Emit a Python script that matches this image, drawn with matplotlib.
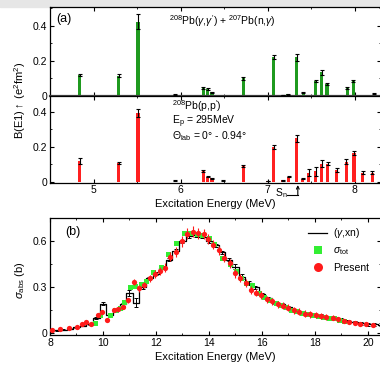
import numpy as np
import matplotlib
matplotlib.use('Agg')
import matplotlib.pyplot as plt
from matplotlib.ticker import MultipleLocator
from matplotlib.patches import Rectangle
from matplotlib.lines import Line2D

plt.rcParams['font.family'] = ['Liberation Sans', 'DejaVu Sans']
plt.rcParams['mathtext.fontset'] = 'custom'
plt.rcParams['mathtext.rm'] = 'Liberation Sans'
plt.rcParams['mathtext.it'] = 'Liberation Sans:italic'

# panel (a) top: 208Pb(g,g') + 207Pb(n,g)
gg_e = [4.84, 5.29, 5.51, 5.94, 6.26, 6.31, 6.36, 6.72, 7.07, 7.18, 7.23, 7.33,
        7.41, 7.55, 7.62, 7.68, 7.91, 7.98, 8.22]
gg_b = [0.120, 0.115, 0.425, 0.008, 0.044, 0.042, 0.022, 0.100, 0.222, 0.005,
        0.010, 0.220, 0.020, 0.088, 0.135, 0.068, 0.048, 0.084, 0.012]
gg_err = [0.006, 0.008, 0.045, 0.003, 0.005, 0.005, 0.003, 0.008, 0.012, 0.002,
          0.002, 0.020, 0.004, 0.006, 0.014, 0.006, 0.006, 0.006, 0.003]

# panel (a) bottom: 208Pb(p,p')
pp_e = [4.84, 5.29, 5.51, 5.94, 6.26, 6.31, 6.36, 6.49, 6.72, 7.00, 7.07, 7.17,
        7.24, 7.33, 7.40, 7.47, 7.55, 7.62, 7.69, 7.79, 7.90, 7.99, 8.09, 8.20]
pp_b = [0.118, 0.110, 0.395, 0.008, 0.060, 0.030, 0.020, 0.010, 0.093, 0.004,
        0.200, 0.010, 0.030, 0.250, 0.018, 0.053, 0.060, 0.105, 0.105, 0.068,
        0.116, 0.164, 0.052, 0.052]
pp_err = [0.017, 0.006, 0.022, 0.003, 0.006, 0.004, 0.003, 0.002, 0.005, 0.001,
          0.012, 0.002, 0.004, 0.020, 0.003, 0.020, 0.025, 0.018, 0.006, 0.012,
          0.015, 0.012, 0.008, 0.008]

# panel (b): present data
pr_e = [8.08, 8.39, 8.71, 9.02, 9.19, 9.37, 9.56, 9.80, 9.98, 10.17, 10.40, 10.58,
        10.77, 10.96, 11.18, 11.37, 11.56, 11.76, 11.95, 12.14, 12.34, 12.55, 12.76,
        12.97, 13.18, 13.39, 13.58, 13.80, 13.98, 14.17, 14.38, 14.56, 14.78, 15.00,
        15.18, 15.39, 15.60, 15.79, 15.98, 16.20, 16.40, 16.61, 16.80, 17.00, 17.20,
        17.40, 17.62, 17.81, 18.04, 18.23, 18.44, 18.67, 18.88, 19.10, 19.30, 19.52,
        19.70, 19.93, 20.20]
pr_s = [0.022, 0.026, 0.037, 0.045, 0.063, 0.072, 0.062, 0.118, 0.140, 0.088, 0.150,
        0.160, 0.172, 0.215, 0.335, 0.295, 0.318, 0.360, 0.385, 0.410, 0.430, 0.500,
        0.530, 0.600, 0.650, 0.662, 0.655, 0.650, 0.615, 0.580, 0.543, 0.495, 0.457,
        0.392, 0.363, 0.326, 0.282, 0.267, 0.250, 0.224, 0.210, 0.190, 0.180, 0.167,
        0.152, 0.141, 0.130, 0.124, 0.119, 0.115, 0.108, 0.102, 0.093, 0.080, 0.072,
        0.066, 0.062, 0.060, 0.058]
pr_err = [0.003, 0.003, 0.004, 0.004, 0.005, 0.006, 0.006, 0.008, 0.010, 0.010, 0.012,
          0.012, 0.014, 0.016, 0.020, 0.022, 0.020, 0.024, 0.026, 0.026, 0.028, 0.030,
          0.032, 0.034, 0.036, 0.036, 0.036, 0.034, 0.034, 0.032, 0.030, 0.030, 0.028,
          0.028, 0.026, 0.026, 0.025, 0.024, 0.024, 0.023, 0.022, 0.022, 0.022, 0.022,
          0.022, 0.022, 0.022, 0.020, 0.020, 0.018, 0.018, 0.016, 0.016, 0.014, 0.012,
          0.012, 0.010, 0.010, 0.010]

# panel (b): sigma_tot
tot_e = [9.69, 9.90, 10.28, 10.47, 10.64, 10.81, 11.04, 11.22, 11.42, 11.62, 11.90,
         12.19, 12.44, 12.76, 13.07, 13.30, 13.55, 13.75, 14.00, 14.20, 14.49, 14.80,
         15.02, 15.20, 15.42, 15.64, 15.90, 16.10, 16.30, 16.52, 16.72, 16.92, 17.12,
         17.32, 17.52, 17.72, 17.92, 18.12, 18.32, 18.52, 18.72, 18.92, 19.12]
tot_s = [0.068, 0.122, 0.120, 0.152, 0.165, 0.205, 0.300, 0.310, 0.322, 0.345, 0.400,
         0.435, 0.515, 0.587, 0.652, 0.652, 0.650, 0.640, 0.620, 0.585, 0.490, 0.450,
         0.405, 0.362, 0.330, 0.318, 0.262, 0.240, 0.220, 0.200, 0.185, 0.170, 0.156,
         0.145, 0.132, 0.126, 0.120, 0.115, 0.110, 0.104, 0.098, 0.090, 0.082]

# panel (b): (g,xn) histogram
gx_e = [8.0, 8.25, 8.5, 8.75, 9.0, 9.25, 9.5, 9.75, 10.0, 10.25, 10.5, 10.75, 11.0,
        11.25, 11.5, 11.75, 12.0, 12.25, 12.5, 12.75, 13.0, 13.25, 13.5, 13.75, 14.0,
        14.25, 14.5, 14.75, 15.0, 15.25, 15.5, 15.75, 16.0, 16.25, 16.5, 16.75, 17.0,
        17.25, 17.5, 17.75, 18.0, 18.25, 18.5, 18.75, 19.0, 19.25, 19.5, 19.75, 20.0,
        20.25, 20.5]
gx_s = [0.015, 0.020, 0.025, 0.030, 0.040, 0.050, 0.060, 0.100, 0.195, 0.120, 0.150,
        0.190, 0.265, 0.200, 0.300, 0.360, 0.390, 0.430, 0.480, 0.540, 0.600, 0.635,
        0.640, 0.630, 0.600, 0.575, 0.530, 0.480, 0.435, 0.370, 0.330, 0.300, 0.255,
        0.230, 0.200, 0.190, 0.170, 0.150, 0.140, 0.130, 0.120, 0.115, 0.105, 0.100,
        0.090, 0.080, 0.075, 0.065, 0.060, 0.060, 0.058]
gx_err = [0.002, 0.002, 0.002, 0.003, 0.003, 0.003, 0.004, 0.006, 0.010, 0.008, 0.008,
          0.010, 0.020, 0.030, 0.010, 0.010, 0.010, 0.010, 0.010, 0.010, 0.010, 0.010,
          0.010, 0.010, 0.010, 0.010, 0.010, 0.010, 0.015, 0.015, 0.015, 0.012, 0.010,
          0.010, 0.008, 0.008, 0.008, 0.008, 0.008, 0.008, 0.008, 0.010, 0.008, 0.008,
          0.008, 0.008, 0.008, 0.008, 0.010, 0.010, 0.008]

fig = plt.figure(figsize=(3.8, 3.68), dpi=100)
fig.patches.append(Rectangle((0, 1 - 7 / 368), 1, 7 / 368, transform=fig.transFigure,
                             color='#e6e6e6', zorder=-5))

W, H = 380, 368
L, R = 50 / W, 331 / W
ax1 = fig.add_axes([L, 1 - 96 / H, R, 89 / H])
ax2 = fig.add_axes([L, 1 - 182.5 / H, R, 86.5 / H])
ax3 = fig.add_axes([L, 1 - 335 / H, R, 117 / H])

def style(ax):
    ax.tick_params(which='both', direction='in', top=True, right=True, labelsize=7.5, pad=2)
    ax.tick_params(which='major', length=3)
    ax.tick_params(which='minor', length=1.6)
    for s in ax.spines.values():
        s.set_linewidth(0.9)

for ax in (ax1, ax2):
    ax.set_xlim(4.5, 8.3)
    ax.xaxis.set_major_locator(MultipleLocator(1))
    ax.xaxis.set_minor_locator(MultipleLocator(0.5))
    ax.yaxis.set_major_locator(MultipleLocator(0.2))
    ax.yaxis.set_minor_locator(MultipleLocator(0.1))
    ax.yaxis.set_major_formatter(lambda v, p: '0' if abs(v) < 1e-9 else f'{v:.1f}')
    style(ax)

ax1.bar(gg_e, gg_b, width=0.035, color='#1f9a1f', zorder=2)
ax1.errorbar(gg_e, gg_b, yerr=gg_err, fmt='none', ecolor='k', elinewidth=0.8,
             capsize=1.5, capthick=0.8, zorder=3)
ax1.set_ylim(0, 0.508)
ax1.tick_params(labelbottom=False)
ax1.spines['bottom'].set_linewidth(1.6)
ax1.spines['bottom'].set_color('#444444')
ax1.text(0.02, 0.93, '(a)', transform=ax1.transAxes, fontsize=9, va='top')
ax1.text(0.36, 0.93, r'$^{208}$Pb($\gamma$,$\gamma^{\prime}$) + $^{207}$Pb(n,$\gamma$)',
         transform=ax1.transAxes, fontsize=7.5, va='top')

ax2.bar(pp_e, pp_b, width=0.035, color='#ff2020', zorder=2)
ax2.errorbar(pp_e, pp_b, yerr=pp_err, fmt='none', ecolor='k', elinewidth=0.8,
             capsize=1.5, capthick=0.8, zorder=3)
ax2.set_ylim(-0.003, 0.49)
ax2.text(0.37, 0.97, r'$^{208}$Pb(p,p$^{\prime}$)', transform=ax2.transAxes,
         fontsize=7.5, va='top')
ax2.text(0.37, 0.80, r'E$_{\rm p}$ = 295MeV', transform=ax2.transAxes,
         fontsize=7.5, va='top')
ax2.text(0.37, 0.62, r'$\Theta_{\rm lab}$ = 0$\degree$ - 0.94$\degree$',
         transform=ax2.transAxes, fontsize=7.5, va='top')
ax2.set_xlabel('Excitation Energy (MeV)', fontsize=8, labelpad=3)

# S_n marker below the axis
tr = ax2.get_xaxis_transform()
ax2.text(7.08, -0.12, r'S$_{\rm n}$', transform=tr, fontsize=7.5, va='center')
ax2.plot([7.22, 7.345], [-0.14, -0.14], transform=tr, color='k', lw=0.8, clip_on=False)
ax2.annotate('', xy=(7.345, -0.03), xytext=(7.345, -0.145), xycoords=tr, textcoords=tr,
             arrowprops=dict(arrowstyle='->', lw=0.8, color='k', shrinkA=0, shrinkB=0,
                             mutation_scale=5))

fig.text(20 / W, 1 - 100 / H, r'B(E1)$\uparrow$ (e$^2$fm$^2$)', rotation=90,
         fontsize=8, va='center', ha='center')

# panel (b)
ax3.step(gx_e, gx_s, where='mid', color='k', lw=0.9, zorder=2)
ax3.errorbar(gx_e, gx_s, yerr=gx_err, fmt='none', ecolor='k', elinewidth=0.7,
             capsize=1.2, capthick=0.7, zorder=2)
ax3.plot(tot_e, tot_s, 's', color='#33ee33', ms=3.6, mew=0, zorder=3)
ax3.errorbar(pr_e, pr_s, yerr=pr_err, fmt='o', color='#ff1a1a', ms=3.8, mew=0,
             ecolor='#ff1a1a', elinewidth=0.8, capsize=1.3, capthick=0.8, zorder=4)
ax3.set_xlim(8, 20.5)
ax3.set_ylim(-0.01, 0.753)
ax3.xaxis.set_major_locator(MultipleLocator(2))
ax3.xaxis.set_minor_locator(MultipleLocator(1))
ax3.yaxis.set_major_locator(MultipleLocator(0.3))
ax3.yaxis.set_minor_locator(MultipleLocator(0.15))
ax3.yaxis.set_major_formatter(lambda v, p: '0' if abs(v) < 1e-9 else f'{v:.1f}')
style(ax3)
ax3.text(0.045, 0.93, '(b)', transform=ax3.transAxes, fontsize=9, va='top')
ax3.set_xlabel('Excitation Energy (MeV)', fontsize=8, labelpad=3)
fig.text(20 / W, 1 - 280 / H, r'$\sigma_{\rm abs}$ (b)', rotation=90,
         fontsize=8, va='center', ha='center')

handles = [Line2D([], [], color='k', lw=0.9),
           Line2D([], [], ls='none', marker='s', color='#33ee33', ms=5.5, mew=0),
           Line2D([], [], ls='none', marker='o', color='#ff1a1a', ms=6.5, mew=0)]
labels = [r'($\gamma$,xn)', r'$\sigma_{\rm tot}$', 'Present']
ax3.legend(handles, labels, loc='upper right', bbox_to_anchor=(0.99, 1.0),
           frameon=False, fontsize=7.5, handlelength=1.8, handletextpad=0.6,
           labelspacing=0.5, borderpad=0.3)

fig.savefig('out.png', dpi=100, facecolor='white')
